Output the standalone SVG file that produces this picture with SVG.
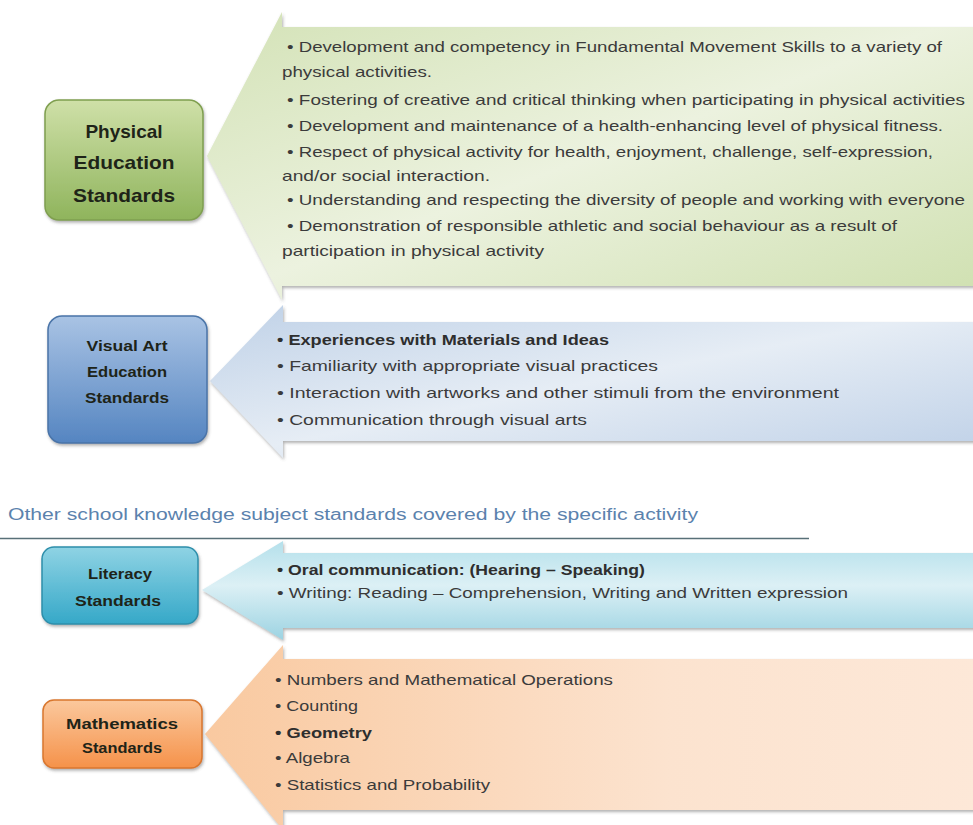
<svg xmlns="http://www.w3.org/2000/svg" width="973" height="825" viewBox="0 0 973 825">
  <defs>
    <style>
      .item { font-family: "Liberation Sans", Arial, sans-serif; font-size: 15px; fill: #3b3b3b; }
      .bold { font-weight: bold; fill: #2e2e2e; }
      .label { font-family: "Liberation Sans", Arial, sans-serif; font-weight: bold; text-anchor: middle; fill: #1e2418; }
      .head { font-family: "Liberation Sans", Arial, sans-serif; font-size: 16px; fill: #5b82ad; }
    </style>
    <!-- arrow body fills -->
    <linearGradient id="gArrowGreen" x1="0" y1="0" x2="1" y2="1">
      <stop offset="0" stop-color="#d3e2b6"/>
      <stop offset="0.5" stop-color="#ecf2df"/>
      <stop offset="1" stop-color="#cfe0b0"/>
    </linearGradient>
    <linearGradient id="gArrowBlue" x1="0" y1="0" x2="1" y2="1">
      <stop offset="0" stop-color="#bfd1e7"/>
      <stop offset="0.5" stop-color="#e6edf5"/>
      <stop offset="1" stop-color="#bed0e7"/>
    </linearGradient>
    <linearGradient id="gArrowTeal" x1="0" y1="0" x2="0" y2="1">
      <stop offset="0" stop-color="#b4e0eb"/>
      <stop offset="0.45" stop-color="#dcf0f5"/>
      <stop offset="1" stop-color="#9cd3e2"/>
    </linearGradient>
    <linearGradient id="gArrowOrange" x1="0" y1="0" x2="1" y2="0">
      <stop offset="0" stop-color="#f9c9a0"/>
      <stop offset="0.6" stop-color="#fce3cf"/>
      <stop offset="1" stop-color="#fde8d8"/>
    </linearGradient>
    <!-- box fills -->
    <linearGradient id="gBoxGreen" x1="0" y1="0" x2="0" y2="1">
      <stop offset="0" stop-color="#cfe0a8"/>
      <stop offset="1" stop-color="#8fb45c"/>
    </linearGradient>
    <linearGradient id="gBoxBlue" x1="0" y1="0" x2="0" y2="1">
      <stop offset="0" stop-color="#a9c3e4"/>
      <stop offset="1" stop-color="#5585c1"/>
    </linearGradient>
    <linearGradient id="gBoxTeal" x1="0" y1="0" x2="0" y2="1">
      <stop offset="0" stop-color="#8fd3e4"/>
      <stop offset="1" stop-color="#35a8c8"/>
    </linearGradient>
    <linearGradient id="gBoxOrange" x1="0" y1="0" x2="0" y2="1">
      <stop offset="0" stop-color="#fbc89d"/>
      <stop offset="1" stop-color="#f5924a"/>
    </linearGradient>
    <filter id="shadow" x="-10%" y="-10%" width="125%" height="130%">
      <feDropShadow dx="1" dy="2" stdDeviation="1.5" flood-color="#555" flood-opacity="0.45"/>
    </filter>
  </defs>

  <rect width="973" height="825" fill="#ffffff"/>

  <!-- left-pointing arrows carrying the standards -->
  <g id="connectors">
    <path d="M207,156 L282,12 L282,27 L980,27 L980,286 L282,286 L282,300 Z" fill="url(#gArrowGreen)" filter="url(#shadow)"/>
    <path d="M210,381 L283,305 L283,322 L980,322 L980,441 L283,441 L283,458 Z" fill="url(#gArrowBlue)" filter="url(#shadow)"/>
    <path d="M202,590 L283,541 L283,553 L980,553 L980,628 L283,628 L283,640 Z" fill="url(#gArrowTeal)" filter="url(#shadow)"/>
    <path d="M205,734 L283,645 L283,659 L980,659 L980,810 L283,810 L283,830 Z" fill="url(#gArrowOrange)" filter="url(#shadow)"/>
  </g>

  <!-- Physical Education -->
  <g id="physical-education">
    <rect x="45" y="100" width="158" height="120" rx="14" fill="url(#gBoxGreen)" stroke="#7f9f4f" stroke-width="1.5" filter="url(#shadow)"/>
    <text class="label" font-size="19" x="124" y="138">Physical</text>
    <text class="label" font-size="19" x="124" y="169" textLength="101" lengthAdjust="spacingAndGlyphs">Education</text>
    <text class="label" font-size="19" x="124" y="202" textLength="102" lengthAdjust="spacingAndGlyphs">Standards</text>
    <g class="item">
      <text x="287" y="52" textLength="655" lengthAdjust="spacingAndGlyphs">• Development and competency in Fundamental Movement Skills to a variety of</text>
      <text x="282" y="77" textLength="150" lengthAdjust="spacingAndGlyphs">physical activities.</text>
      <text x="287" y="105" textLength="678" lengthAdjust="spacingAndGlyphs">• Fostering of creative and critical thinking when participating in physical activities</text>
      <text x="287" y="131" textLength="656" lengthAdjust="spacingAndGlyphs">• Development and maintenance of a health-enhancing level of physical fitness.</text>
      <text x="287" y="157" textLength="646" lengthAdjust="spacingAndGlyphs">• Respect of physical activity for health, enjoyment, challenge, self-expression,</text>
      <text x="282" y="181" textLength="208" lengthAdjust="spacingAndGlyphs">and/or social interaction.</text>
      <text x="287" y="205" textLength="678" lengthAdjust="spacingAndGlyphs">• Understanding and respecting the diversity of people and working with everyone</text>
      <text x="287" y="231" textLength="610" lengthAdjust="spacingAndGlyphs">• Demonstration of responsible athletic and social behaviour as a result of</text>
      <text x="282" y="256" textLength="262" lengthAdjust="spacingAndGlyphs">participation in physical activity</text>
    </g>
  </g>

  <!-- Visual Art Education -->
  <g id="visual-art-education">
    <rect x="48" y="316" width="159" height="127" rx="14" fill="url(#gBoxBlue)" stroke="#4a74a8" stroke-width="1.5" filter="url(#shadow)"/>
    <text class="label" font-size="15.5" x="127" y="351" textLength="81" lengthAdjust="spacingAndGlyphs">Visual Art</text>
    <text class="label" font-size="15.5" x="127" y="377" textLength="80" lengthAdjust="spacingAndGlyphs">Education</text>
    <text class="label" font-size="15.5" x="127" y="403" textLength="84" lengthAdjust="spacingAndGlyphs">Standards</text>
    <g class="item">
      <text class="item bold" x="277" y="345" textLength="332" lengthAdjust="spacingAndGlyphs">• Experiences with Materials and Ideas</text>
      <text x="277" y="371" textLength="381" lengthAdjust="spacingAndGlyphs">• Familiarity with appropriate visual practices</text>
      <text x="277" y="398" textLength="562" lengthAdjust="spacingAndGlyphs">• Interaction with artworks and other  stimuli from the environment</text>
      <text x="277" y="425" textLength="310" lengthAdjust="spacingAndGlyphs">• Communication through  visual arts</text>
    </g>
  </g>

  <!-- section heading -->
  <g id="other-standards-heading">
    <text class="head" x="8" y="520" textLength="690" lengthAdjust="spacingAndGlyphs">Other school knowledge subject standards covered by the specific activity</text>
    <line x1="0" y1="538.5" x2="809" y2="538.5" stroke="#587078" stroke-width="1.5"/>
  </g>

  <!-- Literacy -->
  <g id="literacy">
    <rect x="42" y="547" width="156" height="77" rx="12" fill="url(#gBoxTeal)" stroke="#2d8fab" stroke-width="1.5" filter="url(#shadow)"/>
    <text class="label" font-size="15.5" x="120" y="579" textLength="64" lengthAdjust="spacingAndGlyphs">Literacy</text>
    <text class="label" font-size="15.5" x="118" y="606" textLength="86" lengthAdjust="spacingAndGlyphs">Standards</text>
    <g class="item">
      <text class="item bold" x="277" y="575" textLength="368" lengthAdjust="spacingAndGlyphs">• Oral communication: (Hearing – Speaking)</text>
      <text x="277" y="598" textLength="571" lengthAdjust="spacingAndGlyphs">• Writing: Reading – Comprehension, Writing and Written expression</text>
    </g>
  </g>

  <!-- Mathematics -->
  <g id="mathematics">
    <rect x="43" y="700" width="159" height="68" rx="11" fill="url(#gBoxOrange)" stroke="#d9772e" stroke-width="1.5" filter="url(#shadow)"/>
    <text class="label" font-size="15.5" x="122" y="729" textLength="112" lengthAdjust="spacingAndGlyphs">Mathematics</text>
    <text class="label" font-size="15.5" x="122" y="753" textLength="80" lengthAdjust="spacingAndGlyphs">Standards</text>
    <g class="item">
      <text x="275" y="685" textLength="338" lengthAdjust="spacingAndGlyphs">• Numbers and Mathematical Operations</text>
      <text x="275" y="711" textLength="83" lengthAdjust="spacingAndGlyphs">• Counting</text>
      <text class="item bold" x="275" y="738" textLength="97" lengthAdjust="spacingAndGlyphs">• Geometry</text>
      <text x="275" y="763" textLength="75" lengthAdjust="spacingAndGlyphs">• Algebra</text>
      <text x="275" y="790" textLength="215" lengthAdjust="spacingAndGlyphs">• Statistics and Probability</text>
    </g>
  </g>
</svg>
